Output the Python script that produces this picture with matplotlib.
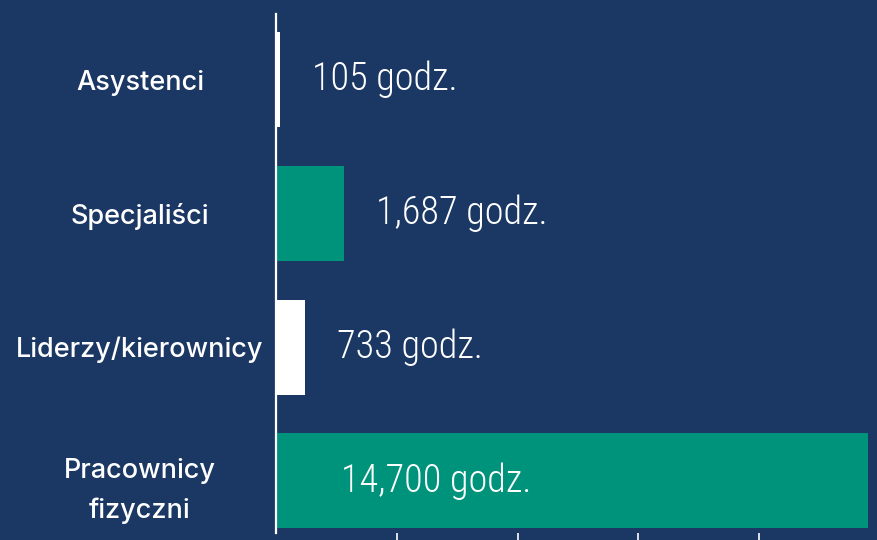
import matplotlib
matplotlib.use("Agg")
import matplotlib.pyplot as plt

# data
categories = ["Asystenci", "Specjaliści", "Liderzy/kierownicy", "Pracownicy\nfizyczni"]
hours = [105, 1687, 733, 14700]
value_labels = ["105 godz.", "1,687 godz.", "733 godz.", "14,700 godz."]
bar_colors = ["#ffffff", "#00937b", "#ffffff", "#00937b"]
x_ticks = [3000, 6000, 9000, 12000]

navy = "#1b3764"
value_font = ["Roboto Condensed", "Roboto", "DejaVu Sans"]

fig = plt.figure(figsize=(8.77, 5.40), dpi=100, facecolor=navy)
ax = fig.add_axes([0.3147, 0.013, 0.6853, 0.961])
ax.set_facecolor(navy)

y = list(range(len(categories)))
ax.barh(y, hours, height=0.71, color=bar_colors, zorder=2)

ax.set_xlim(0, 14930)
ax.set_ylim(3.39, -0.49)

# spines / ticks
for s in ["top", "right", "bottom"]:
    ax.spines[s].set_visible(False)
ax.spines["left"].set_color("white")
ax.spines["left"].set_linewidth(1.6)
ax.spines["left"].set_zorder(3)

ax.set_xticks(x_ticks)
ax.tick_params(axis="x", colors="white", length=6, width=1.2, labelbottom=False)
ax.set_yticks(y)
ax.set_yticklabels(categories, ha="center", color="white", fontsize=19.5,
                   fontfamily="Inter", fontweight="medium", linespacing=1.7)
ax.tick_params(axis="y", length=0, pad=98)

# value labels
for i, (v, lab) in enumerate(zip(hours, value_labels)):
    if v > 0.5 * ax.get_xlim()[1]:
        # long bar: label inside, near the start
        ax.annotate(lab, xy=(0, i), xytext=(47, 0), textcoords="offset points",
                    va="center", ha="left", color="white", fontsize=27.5,
                    family=value_font, fontweight="light")
    else:
        ax.annotate(lab, xy=(v, i), xytext=(23, 0),
                    textcoords="offset points", va="center", ha="left",
                    color="white", fontsize=27.5,
                    family=value_font, fontweight="light")

fig.savefig("out.png", dpi=100, facecolor=navy)
